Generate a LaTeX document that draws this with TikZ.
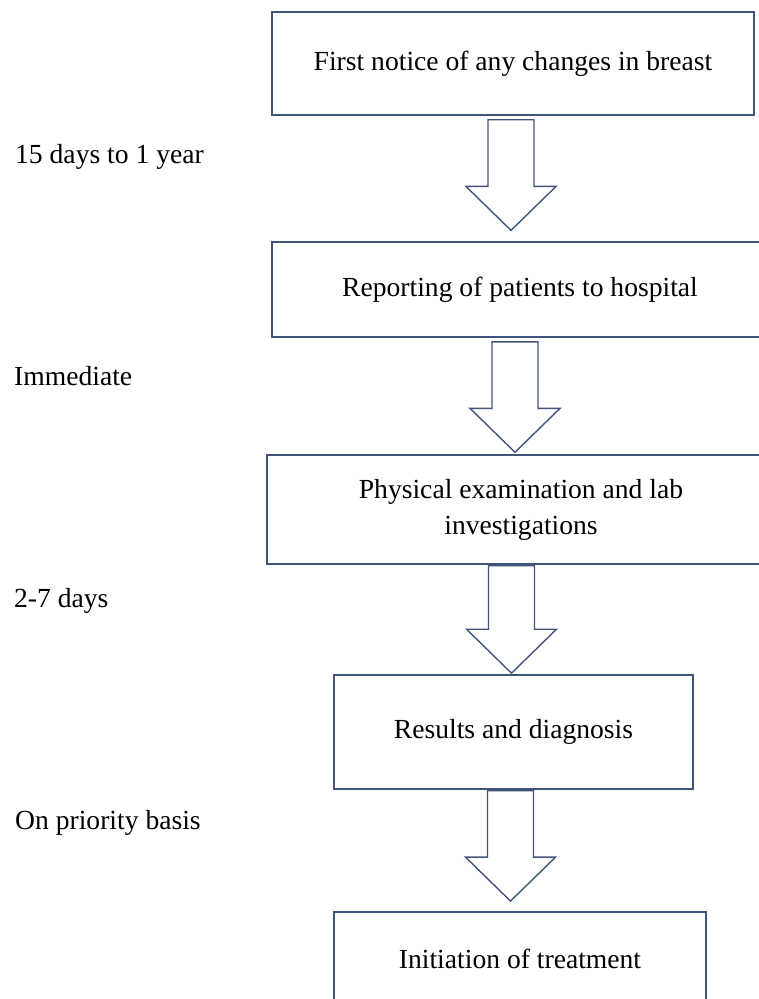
\documentclass[tikz,border=0pt]{standalone}
\usepackage{fontspec}
\setmainfont{Liberation Serif}
\usepackage{tikz}
\usetikzlibrary{positioning, calc}
\definecolor{boxline}{HTML}{41557A}

\begin{document}
\begin{tikzpicture}[x=1pt, y=1pt,
  stepbox/.style={draw=boxline, line width=1.4pt, align=center, font=\fontsize{27.6}{36}\selectfont},
  hollow/.style={draw=boxline, line width=1.4pt, fill=white, line join=miter},
  timelabel/.style={anchor=base west, inner sep=0pt, font=\fontsize{27.6}{36}\selectfont},
]
\useasboundingbox (0,0) rectangle (759,-999);
\clip (0,0) rectangle (759,-999);

% Steps
\node[stepbox, minimum width=482pt, minimum height=103pt] (notice) at (513,-63.5) {First notice of any changes in breast};
\node[stepbox, minimum width=496pt, minimum height=95pt, below=125.7pt of notice, xshift=7pt] (report) {Reporting of patients to hospital};
\node[stepbox, minimum width=508pt, minimum height=109pt, below=116.5pt of report, xshift=1pt] (exam) {Physical examination and lab\\investigations};
\node[stepbox, minimum width=359pt, minimum height=114pt, below=109.5pt of exam, xshift=-7.5pt] (results) {Results and diagnosis};
\node[stepbox, minimum width=372pt, minimum height=94pt, below=121.5pt of results, xshift=6.5pt] (treat) {Initiation of treatment};

% Time between steps
\node[timelabel] (t1) at (15,-163) {15 days to 1 year};
\node[timelabel] (t2) at (14,-385) {Immediate};
\node[timelabel] (t3) at (14,-607) {2-7 days};
\node[timelabel] (t4) at (15,-829) {On priority basis};

% Block arrows
\foreach \src/\dst/\ax/\topgap/\tipgap in {notice/report/511pt/4pt/11pt, report/exam/515pt/4pt/2pt, exam/results/511.5pt/1pt/1pt, results/treat/510.5pt/1pt/10pt}
  \draw[hollow] let \p1=(\src.south), \p2=(\dst.north) in
    (\ax-23pt,\y1-\topgap) -- (\ax+23pt,\y1-\topgap) -- (\ax+23pt,\y2+\tipgap+44pt)
    -- (\ax+45pt,\y2+\tipgap+44pt) -- (\ax,\y2+\tipgap) -- (\ax-45pt,\y2+\tipgap+44pt)
    -- (\ax-23pt,\y2+\tipgap+44pt) -- cycle;

\end{tikzpicture}
\end{document}
